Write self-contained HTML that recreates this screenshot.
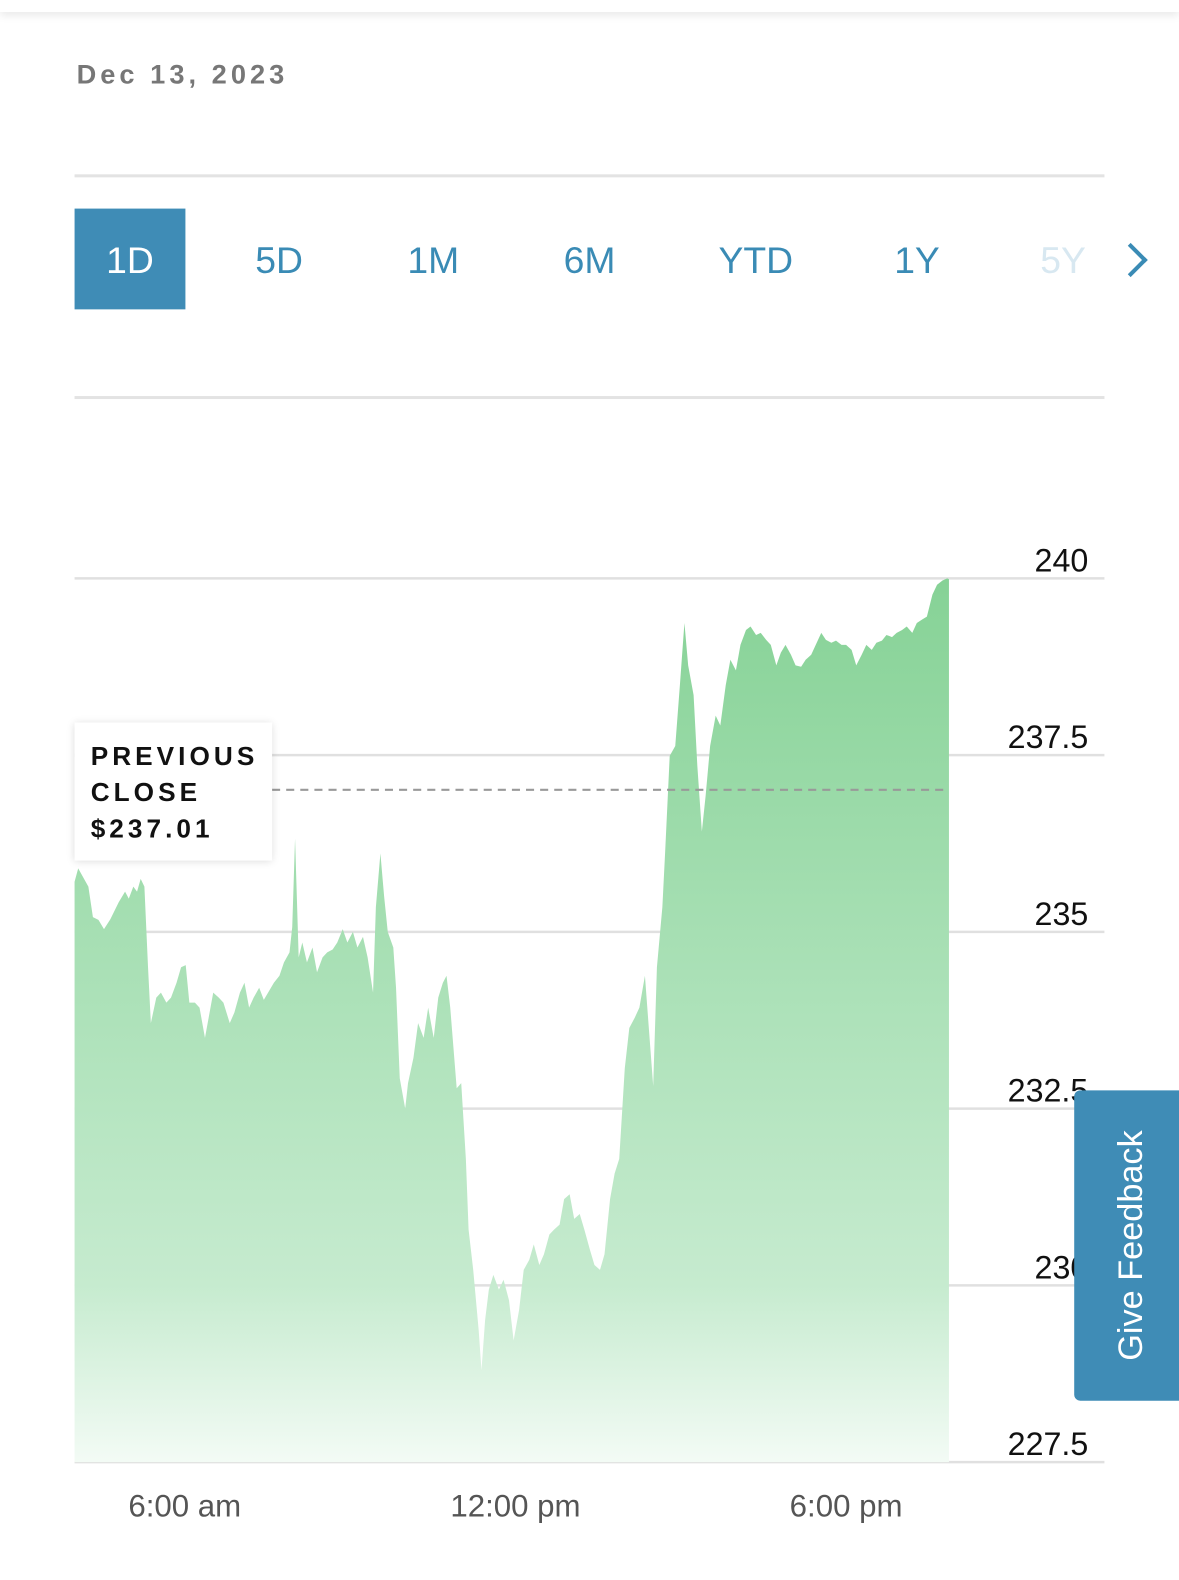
<!DOCTYPE html>
<html><head><meta charset="utf-8">
<style>
html,body{margin:0;padding:0;background:#fff;width:1179px;height:1580px;overflow:hidden;font-family:"Liberation Sans",sans-serif;}
#wrap{position:absolute;left:0;top:0;width:1170px;height:1568px;transform:scale(1.0077);transform-origin:0 0;}
.topbar{position:absolute;left:0;top:0;width:1170px;height:12px;box-shadow:0 4px 8px rgba(0,0,0,0.08);}
.date{position:absolute;left:76px;top:59px;font-size:27px;font-weight:bold;letter-spacing:4px;color:#777;}
.hr{position:absolute;left:74px;width:1022px;height:3px;background:#e3e3e3;}
.tab{position:absolute;top:207px;height:100px;line-height:104px;font-size:37px;color:#3a8bb5;text-align:center;}
.tab.active{background:#3f8cb6;color:#fff;}
.chev{position:absolute;left:1110px;top:246px;width:20px;height:20px;border-right:4px solid #3a8bb5;border-top:4px solid #3a8bb5;transform:rotate(45deg);}
.feedback{position:absolute;left:1066px;top:1082px;width:113px;height:308px;background:#3f8cb6;border-radius:6px 0 0 6px;}
.feedback span{position:absolute;left:50%;top:50%;transform:translate(-50%,-50%) rotate(-90deg);color:#fff;font-size:34px;white-space:nowrap;}
.pc{position:absolute;left:74px;top:717px;width:196px;height:137px;background:#fff;box-shadow:0 1px 8px rgba(0,0,0,0.15);font-size:26px;font-weight:bold;letter-spacing:4px;line-height:36px;padding:15px 0 0 16px;box-sizing:border-box;color:#111;}
</style></head><body>
<div id="wrap">
<div class="topbar"></div>
<div class="date">Dec 13, 2023</div>
<div class="hr" style="top:173px"></div>
<div class="tab active" style="left:74px;width:110px">1D</div>
<div class="tab" style="left:232px;width:90px">5D</div>
<div class="tab" style="left:385px;width:90px">1M</div>
<div class="tab" style="left:540px;width:90px">6M</div>
<div class="tab" style="left:700px;width:100px">YTD</div>
<div class="tab" style="left:865px;width:90px">1Y</div>
<div class="tab" style="left:1010px;width:90px;color:#d8e8f1">5Y</div>
<div class="chev"></div>
<div class="hr" style="top:393px"></div>

<svg id="chart" width="1170" height="1568" style="position:absolute;left:0;top:0">
<defs><linearGradient id="g" gradientUnits="userSpaceOnUse" x1="0" y1="574" x2="0" y2="1451">
<stop offset="0" stop-color="#86d296"/><stop offset="0.5" stop-color="#aee2ba"/><stop offset="0.8" stop-color="#c6ebcf"/><stop offset="1" stop-color="#f3fbf5"/></linearGradient></defs>
<g id="grid"></g><g id="area"></g><g id="ylab"></g><g id="xlab"></g><g id="prev"></g>
</svg>
<div class="pc">PREVIOUS<br>CLOSE<br>$237.01</div>
<div class="feedback"><span>Give Feedback</span></div>
</div>

<script>
const yTicks=[240,237.5,235,232.5,230,227.5];
const yTickLabels=["240","237.5","235","232.5","230","227.5"];
const xTicks=[120,480,840];
const xTickLabels=["6:00 am","12:00 pm","6:00 pm"];
const prevClose=237.01;
const times=[0,4,15,20,26,32,39,48,55,59,64,68,72,76,80,83,89,94,100,105,111,116,121,125,131,136,142,146,151,157,162,169,174,180,185,190,195,201,206,212,217,223,228,234,237,240,244,248,253,259,264,270,275,281,286,292,297,303,308,314,319,325,328,333,337,341,347,350,354,360,363,369,374,380,385,391,396,401,405,409,416,421,426,429,434,440,443,447,451,456,462,467,473,478,484,489,495,500,506,511,517,522,528,533,539,544,550,555,561,566,572,577,583,588,593,599,604,610,615,621,626,630,634,640,643,648,654,659,664,668,674,678,683,687,692,698,703,709,714,720,725,731,736,742,747,753,758,764,769,774,780,785,791,796,802,807,813,818,824,829,835,840,846,851,857,862,868,873,879,884,890,895,901,906,912,917,923,928,934,939,945,950,952];
const prices=[235.71,235.90,235.64,235.21,235.17,235.04,235.18,235.42,235.57,235.47,235.64,235.57,235.75,235.64,234.50,233.71,234.07,234.14,234.00,234.07,234.28,234.50,234.53,234.00,234.00,233.93,233.50,233.79,234.14,234.07,234.00,233.71,233.86,234.14,234.28,233.93,234.07,234.21,234.04,234.17,234.28,234.38,234.57,234.71,235.07,236.32,234.64,234.85,234.57,234.78,234.43,234.64,234.71,234.75,234.85,235.04,234.85,235.00,234.78,234.93,234.64,234.14,235.35,236.11,235.50,235.00,234.78,234.21,232.93,232.50,232.86,233.22,233.71,233.50,233.93,233.50,234.07,234.28,234.38,233.93,232.79,232.86,231.79,230.79,230.22,229.37,228.80,229.51,229.94,230.15,229.94,230.08,229.79,229.22,229.65,230.22,230.36,230.58,230.29,230.44,230.72,230.79,230.86,231.22,231.29,230.94,231.01,230.79,230.51,230.29,230.22,230.44,231.22,231.58,231.79,233.07,233.64,233.79,233.93,234.38,233.50,232.82,234.50,235.35,236.14,237.49,237.63,238.49,239.37,238.77,238.35,237.35,236.42,236.92,237.63,238.06,237.92,238.49,238.85,238.70,239.06,239.27,239.32,239.20,239.23,239.13,239.06,238.77,238.95,239.06,238.92,238.77,238.75,238.85,238.92,239.06,239.23,239.13,239.09,239.12,239.06,239.06,238.99,238.77,238.92,239.06,238.99,239.09,239.12,239.20,239.17,239.23,239.27,239.32,239.23,239.37,239.42,239.46,239.77,239.91,239.97,240.00,239.99];

const X0=74,X1=949,TMAX=960,Y0=574,Y1=1451,PMAX=240,PMIN=227.5;
const xs=t=>X0+t/TMAX*(X1-X0);
const ys=p=>Y0+(PMAX-p)/(PMAX-PMIN)*(Y1-Y0);
const NS="http://www.w3.org/2000/svg";
function mk(tag,attrs,parent){const e=document.createElementNS(NS,tag);for(const k in attrs)e.setAttribute(k,attrs[k]);parent.appendChild(e);return e;}

const grid=document.getElementById('grid'),ylab=document.getElementById('ylab'),xlab=document.getElementById('xlab'),area=document.getElementById('area'),prev=document.getElementById('prev');
yTicks.forEach((v,i)=>{
  const l=mk('line',{x1:74,x2:1096,y1:ys(v),y2:ys(v),stroke:'#e0e0e0','stroke-width':2.5},grid);
  
  
  const t=mk('text',{x:1080,y:ys(v)-7,'text-anchor':'end','font-size':32,fill:'#111','font-family':'Liberation Sans, sans-serif'},ylab);
  t.textContent=yTickLabels[i];
  
  
});
xTicks.forEach((v,i)=>{
  const t=mk('text',{x:xs(v),y:1505,'text-anchor':'middle','font-size':31,fill:'#555','font-family':'Liberation Sans, sans-serif'},xlab);
  t.textContent=xTickLabels[i];
  
  
});
let d='M'+xs(times[0])+','+Y1;
times.forEach((t,i)=>{d+=' L'+xs(t).toFixed(1)+','+ys(prices[i]).toFixed(1);});
d+=' L'+xs(times[times.length-1])+','+Y1+' Z';
const a=mk('path',{d:d,fill:'url(#g)'},area);


const pl=mk('line',{x1:270,x2:xs(times[times.length-1]),y1:ys(prevClose),y2:ys(prevClose),stroke:'#999','stroke-width':2,'stroke-dasharray':'8,6'},prev);


</script>
</body></html>
